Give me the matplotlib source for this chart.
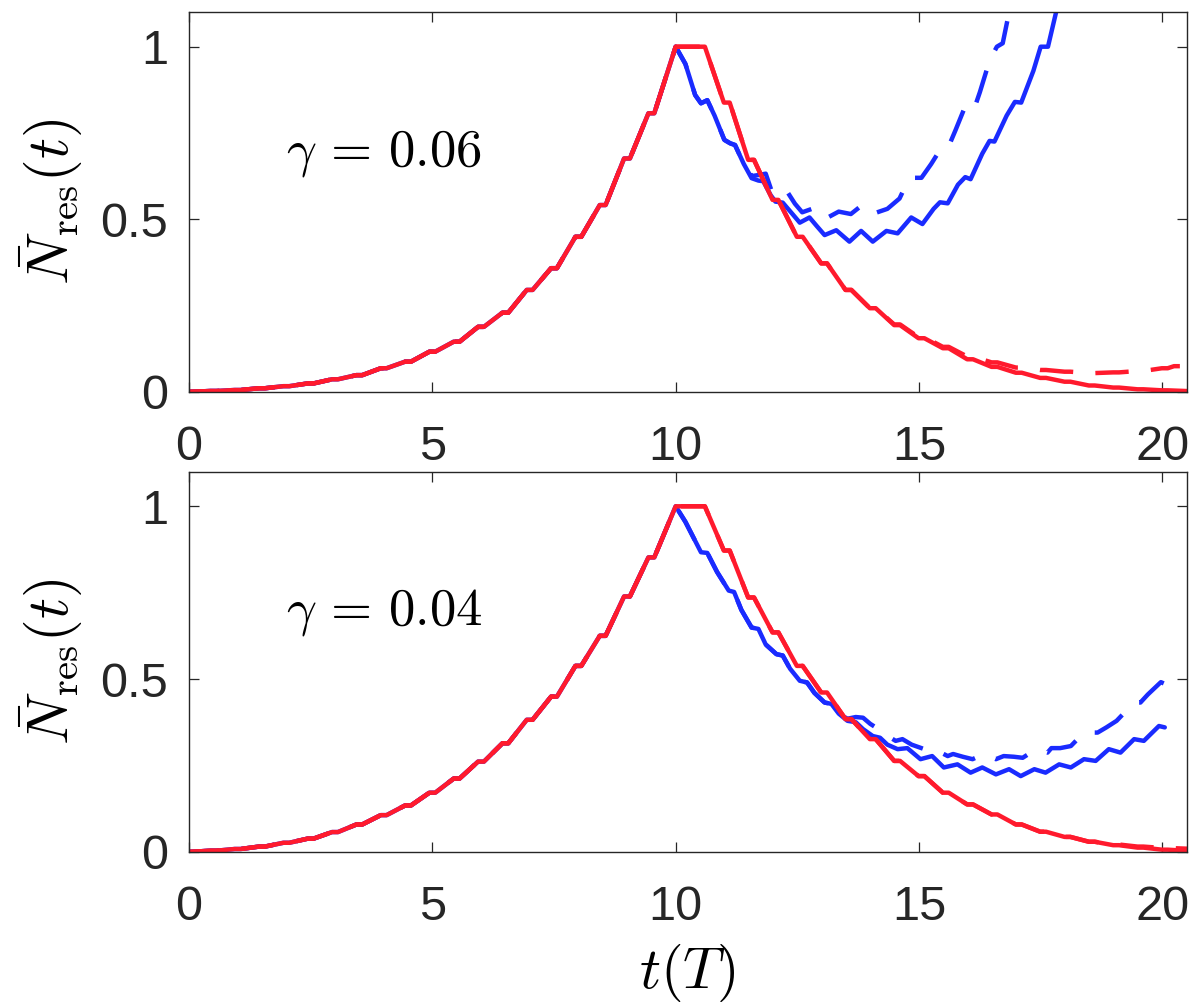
import numpy as np
import matplotlib
matplotlib.use("Agg")
import matplotlib.pyplot as plt

plt.rcParams["font.family"] = ["Liberation Sans", "DejaVu Sans"]
plt.rcParams["mathtext.fontset"] = "cm"
plt.rcParams["lines.solid_joinstyle"] = "round"
plt.rcParams["lines.dash_joinstyle"] = "round"
plt.rcParams["lines.solid_capstyle"] = "round"

red = "#ff1a2d"
blue = "#1a2bff"

# plateau centres of the staircase on the way up (same t in both panels)
t_up = [0, 0.5, 1, 1.5, 2, 2.5, 3, 3.5, 4, 4.5, 5, 5.5, 6, 6.5, 7, 7.5, 8, 8.5, 9, 9.5]
# plateau centres of the red curves on the way down
t_down = [11.05, 11.55, 12.05, 12.55, 13.05, 13.55, 14.05, 14.55, 15.05, 15.55,
          16.05, 16.55, 17.05, 17.55, 18.05, 18.55, 19.05, 19.55, 20.05, 20.55]

# ---- gamma = 0.06 (top) ----
up_06 = [0, 0.002, 0.005, 0.010, 0.016, 0.024, 0.036, 0.048, 0.068, 0.087,
         0.116, 0.145, 0.188, 0.229, 0.295, 0.358, 0.449, 0.541, 0.676, 0.807]
red_06 = [0.838, 0.672, 0.556, 0.449, 0.372, 0.295, 0.242, 0.193, 0.155, 0.126,
          0.094, 0.072, 0.055, 0.040, 0.029, 0.018, 0.012, 0.007, 0.004, 0.002]
red_dash_06 = [0.838, 0.672, 0.556, 0.449, 0.372, 0.295, 0.242, 0.195, 0.158, 0.130,
               0.102, 0.085, 0.070, 0.063, 0.058, 0.054, 0.056, 0.060, 0.068]
red_dash_06_end = (20.3, 0.074)

blue_t_06 = [10.0, 10.2, 10.4, 10.52, 10.65, 10.8, 11.0, 11.12, 11.22, 11.4, 11.56, 11.7,
             11.8, 11.95, 12.05, 12.2, 12.4, 12.55, 12.75, 12.9, 13.06, 13.3, 13.57,
             13.81, 14.05, 14.33, 14.56, 14.84, 15.07, 15.3, 15.43, 15.59, 15.8, 15.95,
             16.06, 16.3, 16.45, 16.55, 16.8, 16.97, 17.1, 17.35, 17.5, 17.65, 17.85]
blue_06 = [1.0, 0.95, 0.86, 0.836, 0.845, 0.80, 0.73, 0.72, 0.715, 0.66, 0.619, 0.612,
           0.61, 0.57, 0.551, 0.548, 0.515, 0.49, 0.505, 0.48, 0.454, 0.468, 0.435,
           0.466, 0.435, 0.466, 0.459, 0.505, 0.486, 0.53, 0.549, 0.546, 0.60, 0.622,
           0.616, 0.69, 0.727, 0.725, 0.80, 0.84, 0.838, 0.93, 1.0, 1.0, 1.12]

blue_dash_t_06 = [10.0, 10.2, 10.4, 10.52, 10.65, 10.8, 11.0, 11.12, 11.22, 11.4, 11.56,
                  11.7, 11.85, 12.0, 12.15, 12.3, 12.45, 12.6, 12.8, 13.06, 13.35, 13.6,
                  13.85, 14.1, 14.35, 14.6, 14.8, 15.05, 15.25, 15.45, 15.6, 15.75, 15.92,
                  16.1, 16.25, 16.45, 16.6, 16.72, 16.88]
blue_dash_06 = [1.0, 0.95, 0.86, 0.836, 0.845, 0.80, 0.73, 0.72, 0.715, 0.66, 0.625,
                0.628, 0.632, 0.57, 0.572, 0.578, 0.545, 0.52, 0.53, 0.50, 0.522, 0.515,
                0.543, 0.518, 0.53, 0.56, 0.62, 0.62, 0.66, 0.705, 0.708, 0.758, 0.817,
                0.806, 0.868, 0.96, 1.0, 1.01, 1.12]

# ---- gamma = 0.04 (bottom) ----
up_04 = [0, 0.003, 0.008, 0.015, 0.026, 0.038, 0.057, 0.079, 0.106, 0.134,
         0.171, 0.212, 0.261, 0.314, 0.382, 0.449, 0.538, 0.625, 0.739, 0.852]
red_04 = [0.872, 0.736, 0.635, 0.538, 0.461, 0.384, 0.326, 0.263, 0.219, 0.171,
          0.137, 0.108, 0.079, 0.058, 0.043, 0.029, 0.019, 0.012, 0.006, 0.003]
red_dash_04 = [0.872, 0.736, 0.635, 0.538, 0.461, 0.384, 0.326, 0.263, 0.219, 0.171,
               0.137, 0.108, 0.079, 0.058, 0.043, 0.029, 0.021, 0.015, 0.011, 0.009]

blue_t_04 = [10.0, 10.2, 10.4, 10.52, 10.65, 10.85, 11.09, 11.2, 11.35, 11.56, 11.7,
             11.85, 12.07, 12.2, 12.35, 12.55, 12.7, 12.85, 13.06, 13.2, 13.35, 13.53,
             13.7, 13.85, 14.05, 14.2, 14.35, 14.56, 14.76, 15.03, 15.27, 15.51, 15.79,
             16.06, 16.30, 16.58, 16.85, 17.09, 17.37, 17.60, 17.88, 18.12, 18.39, 18.63,
             18.90, 19.14, 19.42, 19.62, 19.93, 20.05]
blue_04 = [1.0, 0.955, 0.90, 0.867, 0.865, 0.81, 0.756, 0.752, 0.70, 0.649, 0.645,
           0.60, 0.572, 0.568, 0.53, 0.495, 0.49, 0.46, 0.432, 0.428, 0.40, 0.379,
           0.375, 0.355, 0.335, 0.33, 0.31, 0.297, 0.30, 0.268, 0.277, 0.244, 0.253,
           0.229, 0.244, 0.224, 0.239, 0.219, 0.239, 0.229, 0.253, 0.244, 0.268, 0.263,
           0.297, 0.287, 0.326, 0.321, 0.364, 0.36]

blue_dash_t_04 = [10.0, 10.2, 10.4, 10.52, 10.65, 10.85, 11.09, 11.2, 11.35, 11.56, 11.7,
                  11.85, 12.07, 12.2, 12.35, 12.55, 12.7, 12.85, 13.06, 13.2, 13.35,
                  13.53, 13.7, 13.85, 14.0, 14.17, 14.3, 14.52, 14.66, 14.85, 15.11,
                  15.27, 15.59, 15.7, 15.9, 16.10, 16.34, 16.58, 16.74, 16.95, 17.13,
                  17.41, 17.64, 17.72, 17.9, 18.12, 18.39, 18.67, 18.85, 19.06, 19.42,
                  19.55, 19.7, 19.85, 19.97, 20.05]
blue_dash_04 = [1.0, 0.955, 0.90, 0.867, 0.865, 0.81, 0.756, 0.752, 0.70, 0.649, 0.645,
                0.60, 0.572, 0.568, 0.53, 0.495, 0.49, 0.46, 0.432, 0.428, 0.40,
                0.385, 0.39, 0.388, 0.37, 0.355, 0.34, 0.321, 0.326, 0.31, 0.297,
                0.30, 0.277, 0.283, 0.275, 0.268, 0.283, 0.268, 0.277, 0.275, 0.272,
                0.297, 0.287, 0.30, 0.30, 0.306, 0.345, 0.345, 0.36, 0.379, 0.432,
                0.432, 0.455, 0.475, 0.491, 0.486]


def stairs(tc, v, half=0.06):
    t = np.repeat(tc, 2) + np.tile([-half, half], len(tc))
    return list(t), list(np.repeat(v, 2))


panels = [
    (up_06, red_06, (t_down[:19] + [red_dash_06_end[0]], red_dash_06 + [red_dash_06_end[1]]),
     (blue_t_06, blue_06), (blue_dash_t_06, blue_dash_06), r"$\gamma\,=\,0.06$"),
    (up_04, red_04, (t_down, red_dash_04),
     (blue_t_04, blue_04), (blue_dash_t_04, blue_dash_04), r"$\gamma\,=\,0.04$"),
]

fig = plt.figure(figsize=(12, 10.08), dpi=100)
ax_top = fig.add_axes([0.1575, 0.6114, 0.8314, 0.3765])
ax_bot = fig.add_axes([0.1575, 0.155, 0.8314, 0.377])
dash = (0, (7.5, 5))
lw = 3.2

for ax, (up, red_solid, red_dash, blue_solid, blue_dash, label) in zip([ax_top, ax_bot], panels):
    tu, yu = stairs(t_up, up)
    td, yd = stairs(t_down, red_solid)
    tdd, ydd = stairs(*red_dash)

    ax.plot(tu + blue_dash[0], yu + blue_dash[1], color=blue, lw=lw, ls=dash)
    ax.plot(tu + blue_solid[0], yu + blue_solid[1], color=blue, lw=lw)
    ax.plot(tu + [10.0, 10.6] + tdd, yu + [1, 1] + ydd, color=red, lw=lw, ls=dash)
    ax.plot(tu + [10.0, 10.6] + td, yu + [1, 1] + yd, color=red, lw=lw)

    ax.text(2.0, 0.657, label, fontsize=38, va="baseline")

    ax.set_xlim(0, 20.5)
    ax.set_ylim(0, 1.1)
    ax.set_xticks([0, 5, 10, 15, 20])
    ax.set_yticks([0, 0.5, 1])
    ax.set_yticklabels(["0", "0.5", "1"])
    ax.tick_params(direction="in", top=True, right=True, length=7, width=0.9,
                   labelsize=35, colors="#262626")
    ax.tick_params(axis="x", pad=24)
    ax.tick_params(axis="y", pad=15)
    for s in ax.spines.values():
        s.set_color("#262626")
        s.set_linewidth(1.0)
    ax.set_ylabel(r"$\bar{N}_{\rm res}(t)$", fontsize=42)
    ax.yaxis.set_label_coords(-0.105, 0.5)

ax_bot.set_xlabel(r"$t(T)$", fontsize=42)
ax_bot.xaxis.set_label_coords(0.5, -0.238)

fig.savefig("out.png", dpi=100)
